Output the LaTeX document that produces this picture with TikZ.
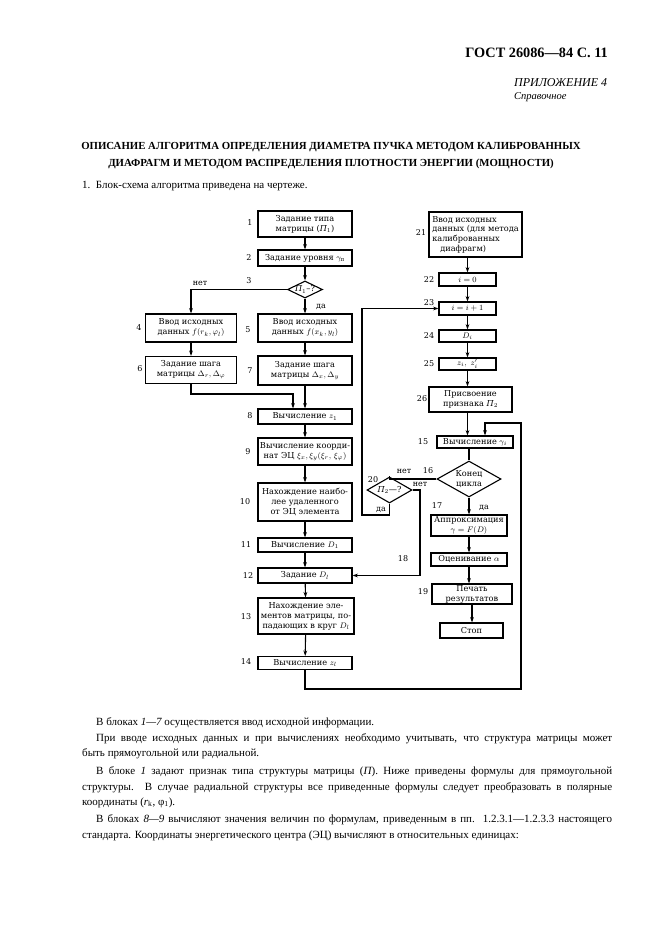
\documentclass[tikz,border=0pt]{standalone}
\usepackage{fontspec}
\setmainfont{Liberation Serif}
\newfontfamily\fc{DejaVu Serif}
\usetikzlibrary{shapes.geometric,arrows.meta}
\tikzset{
  box/.style={draw, line width=1.1pt, font=\fc\fontsize{8.2}{10}\selectfont, align=center, inner sep=0.5pt},
  dmd/.style={draw, line width=1.1pt, shape=diamond, inner sep=0pt},
  dtext/.style={font=\fc\fontsize{8.2}{10}\selectfont, align=center, inner sep=0pt},
  num/.style={font=\fc\fontsize{8}{9}\selectfont, inner sep=0pt},
  arr/.style={-{Stealth[length=5.5pt,width=3.8pt]}, line width=1.1pt},
  ln/.style={line width=1.1pt},
  body/.style={font=\fontsize{11}{12}\selectfont, inner sep=0pt, anchor=base west},
}
\begin{document}
\begin{tikzpicture}[x=1pt,y=-1pt]
\useasboundingbox[fill=white] (0,0) rectangle (661,936);

% header
\node[font=\bfseries\fontsize{14.3}{16}\selectfont, anchor=base east, inner sep=0pt] (hdr) at (608,57.5) {ГОСТ 26086—84 С. 11};
\node[font=\itshape\fontsize{12}{13}\selectfont, anchor=base west, inner sep=0pt] (app) at (514,86.5) {ПРИЛОЖЕНИЕ 4};
\node[font=\itshape\fontsize{10.5}{12}\selectfont, anchor=base west, inner sep=0pt] (ref) at (514,99.5) {Справочное};
\node[font=\bfseries\fontsize{10.8}{12}\selectfont, anchor=base, inner sep=0pt] (t1) at (331,149.5) {ОПИСАНИЕ АЛГОРИТМА ОПРЕДЕЛЕНИЯ ДИАМЕТРА ПУЧКА МЕТОДОМ КАЛИБРОВАННЫХ};
\node[font=\bfseries\fontsize{10.8}{12}\selectfont, anchor=base, inner sep=0pt] (t2) at (331,166.5) {ДИАФРАГМ И МЕТОДОМ РАСПРЕДЕЛЕНИЯ ПЛОТНОСТИ ЭНЕРГИИ (МОЩНОСТИ)};
\node[body] (p0) at (82,189) {1.\ \ Блок-схема алгоритма приведена на чертеже.};

% left flow
\node[box, minimum width=94pt, minimum height=26pt] (b1) at (305,224) {Задание типа\\матрицы ({\itshape П}$_1$)};
\node[box, minimum width=94pt, minimum height=16pt] (b2) at (305,258) {Задание уровня $\gamma_{\mbox{\fontsize{5.5}{5}\selectfont п}}$};
\node[dmd, minimum width=35pt, minimum height=17pt] (d3) at (305,289.5) {};
\node[dtext] (d3t) at (d3) {{\itshape П}$_1$–?};
\node[box, minimum width=91pt, minimum height=28pt] (b4) at (191,328) {Ввод исходных\\данных $f(r_k,\varphi_l)$};
\node[box, minimum width=94pt, minimum height=28pt] (b5) at (305,328) {Ввод исходных\\данных $f(x_k,y_l)$};
\node[box, minimum width=91pt, minimum height=27pt] (b6) at (191,370) {Задание шага\\матрицы $\Delta_r,\Delta_\varphi$};
\node[box, minimum width=94pt, minimum height=29pt] (b7) at (305,370.5) {Задание шага\\матрицы $\Delta_x,\Delta_y$};
\node[box, minimum width=94pt, minimum height=15pt] (b8) at (305,416.5) {Вычисление $z_1$};
\node[box, minimum width=94pt, minimum height=27pt] (b9) at (305,451.5) {Вычисление коорди-\\нат ЭЦ $\xi_x,\xi_y(\xi_r,\,\xi_\varphi)$};
\node[box, minimum width=94pt, minimum height=38pt] (b10) at (305,502) {Нахождение наибо-\\лее удаленного\\от ЭЦ элемента};
\node[box, minimum width=94pt, minimum height=14pt] (b11) at (305,545) {Вычисление $D_1$};
\node[box, minimum width=94pt, minimum height=15pt] (b12) at (305,575.5) {Задание $D_l$};
\node[box, minimum width=96pt, minimum height=36pt] (b13) at (306,616) {Нахождение эле-\\ментов матрицы, по-\\падающих в круг $D_l$};
\node[box, minimum width=94pt, minimum height=13pt] (b14) at (305,663) {Вычисление $z_l$};

% right flow
\node[box, minimum width=93pt, minimum height=45pt, align=left, font=\fc\fontsize{8.2}{9.6}\selectfont] (b21) at (475.5,234.5) {Ввод исходных\\данных (для метода\\калиброванных\\\hspace*{8pt}диафрагм)};
\node[box, minimum width=57pt, minimum height=13pt] (b22) at (467.5,279.5) {$i=0$};
\node[box, minimum width=57pt, minimum height=13pt] (b23) at (467.5,308.5) {$i=i+1$};
\node[box, minimum width=57pt, minimum height=12pt] (b24) at (467.5,336) {$D_i$};
\node[box, minimum width=57pt, minimum height=12pt] (b25) at (467.5,364) {$z_i,\ z_i'$};
\node[box, minimum width=83pt, minimum height=25pt] (b26) at (470.5,399.5) {Присвоение\\признака {\itshape П}$_2$};
\node[box, minimum width=76pt, minimum height=12pt] (b15) at (475,442) {Вычисление $\gamma_i$};
\node[dmd, minimum width=64pt, minimum height=36pt] (d16) at (469,479) {};
\node[dtext] (d16t) at (d16) {Конец\\цикла};
\node[box, minimum width=76pt, minimum height=21pt] (b17) at (469,525.5) {Аппроксимация\\$\gamma=F(D)$};
\node[box, minimum width=76pt, minimum height=13pt] (b18) at (469,559.5) {Оценивание $\alpha$};
\node[box, minimum width=80pt, minimum height=20pt] (b19) at (472,594) {Печать\\результатов};
\node[box, minimum width=63pt, minimum height=15pt] (bst) at (471.5,630.5) {Стоп};
\node[dmd, minimum width=45pt, minimum height=26pt] (d20) at (389.5,490) {};
\node[dtext] (d20t) at (d20) {{\itshape П}$_2$—?};

% numbers
\node[num] (n1) at (250,223) {1};
\node[num] (n2) at (249,258) {2};
\node[num] (n3) at (249,281) {3};
\node[num] (n4) at (139,328) {4};
\node[num] (n5) at (248,330) {5};
\node[num] (n6) at (140,369) {6};
\node[num] (n7) at (250,371) {7};
\node[num] (n8) at (250,416) {8};
\node[num] (n9) at (248,452) {9};
\node[num] (n10) at (245,502) {10};
\node[num] (n11) at (246,545) {11};
\node[num] (n12) at (248,576) {12};
\node[num] (n13) at (246,617) {13};
\node[num] (n14) at (246,662) {14};
\node[num] (n21) at (421,233) {21};
\node[num] (n22) at (429,280) {22};
\node[num] (n23) at (429,303) {23};
\node[num] (n24) at (429,336) {24};
\node[num] (n25) at (429,364) {25};
\node[num] (n26) at (422,399) {26};
\node[num] (n15) at (423,442) {15};
\node[num] (n16) at (428,471) {16};
\node[num] (n17) at (437,506) {17};
\node[num] (n19) at (423,592) {19};
\node[num] (n18) at (403,559) {18};
\node[num] (n20) at (373,480) {20};
\node[num] (no3) at (200,283) {нет};
\node[num] (ye3) at (321,307) {да};
\node[num] (no16) at (404,471) {нет};
\node[num] (no20) at (420,484) {нет};
\node[num] (ye20) at (381,510) {да};
\node[num] (ye16) at (484,508) {да};

% connectors left
\draw[arr] (b1) -- (b2);
\draw[arr] (b2) -- (d3);
\draw[arr] (d3.west) -| (b4.north);
\draw[arr] (d3) -- (b5);
\draw[arr] (b4) -- (b6);
\draw[arr] (b5) -- (b7);
\coordinate (c68) at (293,394);
\draw[arr] (b6.south) |- (c68) -- (c68 |- b8.north);
\draw[arr] (b7) -- (b8);
\draw[arr] (b8) -- (b9);
\draw[arr] (b9) -- (b10);
\draw[arr] (b10) -- (b11);
\draw[arr] (b11) -- (b12);
\draw[arr] (b12) -- (b13);
\draw[arr] (b13) -- (b14);
\coordinate (l1) at (521,689);
\coordinate (l2) at (485,423);
\draw[arr] (b14.south) |- (l1) |- (l2) -- (l2 |- b15.north);

% connectors right
\draw[arr] (b22 |- b21.south) -- (b22);
\draw[arr] (b22) -- (b23);
\draw[arr] (b23) -- (b24);
\draw[arr] (b24) -- (b25);
\draw[arr] (b25.south) -- (b25.south |- b26.north);
\draw[arr] (b25.south |- b26.south) -- (b25.south |- b15.north);
\draw[ln] (d16.north |- b15.south) -- (d16.north);
\draw[arr] (d16.south) -- (d16.south |- b17.north);
\draw[arr] (b17) -- (b18);
\draw[arr] (b18.south) -- (b18.south |- b19.north);
\draw[arr] (b19.south) -- (b19.south |- bst.north);
\draw[ln] (d16.west) -| (d20.north);
\coordinate (c18) at (420,490);
\draw[arr] (d20.east) -- (c18) |- (b12.east);
\coordinate (c20) at (362,515);
\draw[arr] (d20.south) |- (c20) |- (b23.west);

% body text
\node[body] (q1) at (96,725) {В блоках {\itshape 1—7} осуществляется ввод исходной информации.};
\node[body] (q2) at (96,741) {\makebox[516pt][s]{При вводе исходных данных и при вычислениях необходимо учитывать, что структура матрицы может}};
\node[body] (q3) at (82,756) {быть прямоугольной или радиальной.};
\node[body] (q4) at (96,774) {\makebox[516pt][s]{В блоке {\itshape 1} задают признак типа структуры матрицы ({\itshape П}). Ниже приведены формулы для прямоугольной}};
\node[body] (q5) at (82,790) {\makebox[530pt][s]{структуры. В случае радиальной структуры все приведенные формулы следует преобразовать в полярные}};
\node[body] (q6) at (82,805) {координаты ({\itshape r}\textsubscript{k}, φ\textsubscript{1}).};
\node[body] (q7) at (96,822) {\makebox[516pt][s]{В блоках {\itshape 8—9} вычисляют значения величин по формулам, приведенным в пп.\ \ 1.2.3.1—1.2.3.3 настоящего}};
\node[body] (q8) at (82,838) {стандарта. Координаты энергетического центра (ЭЦ) вычисляют в относительных единицах:};
\end{tikzpicture}
\end{document}
